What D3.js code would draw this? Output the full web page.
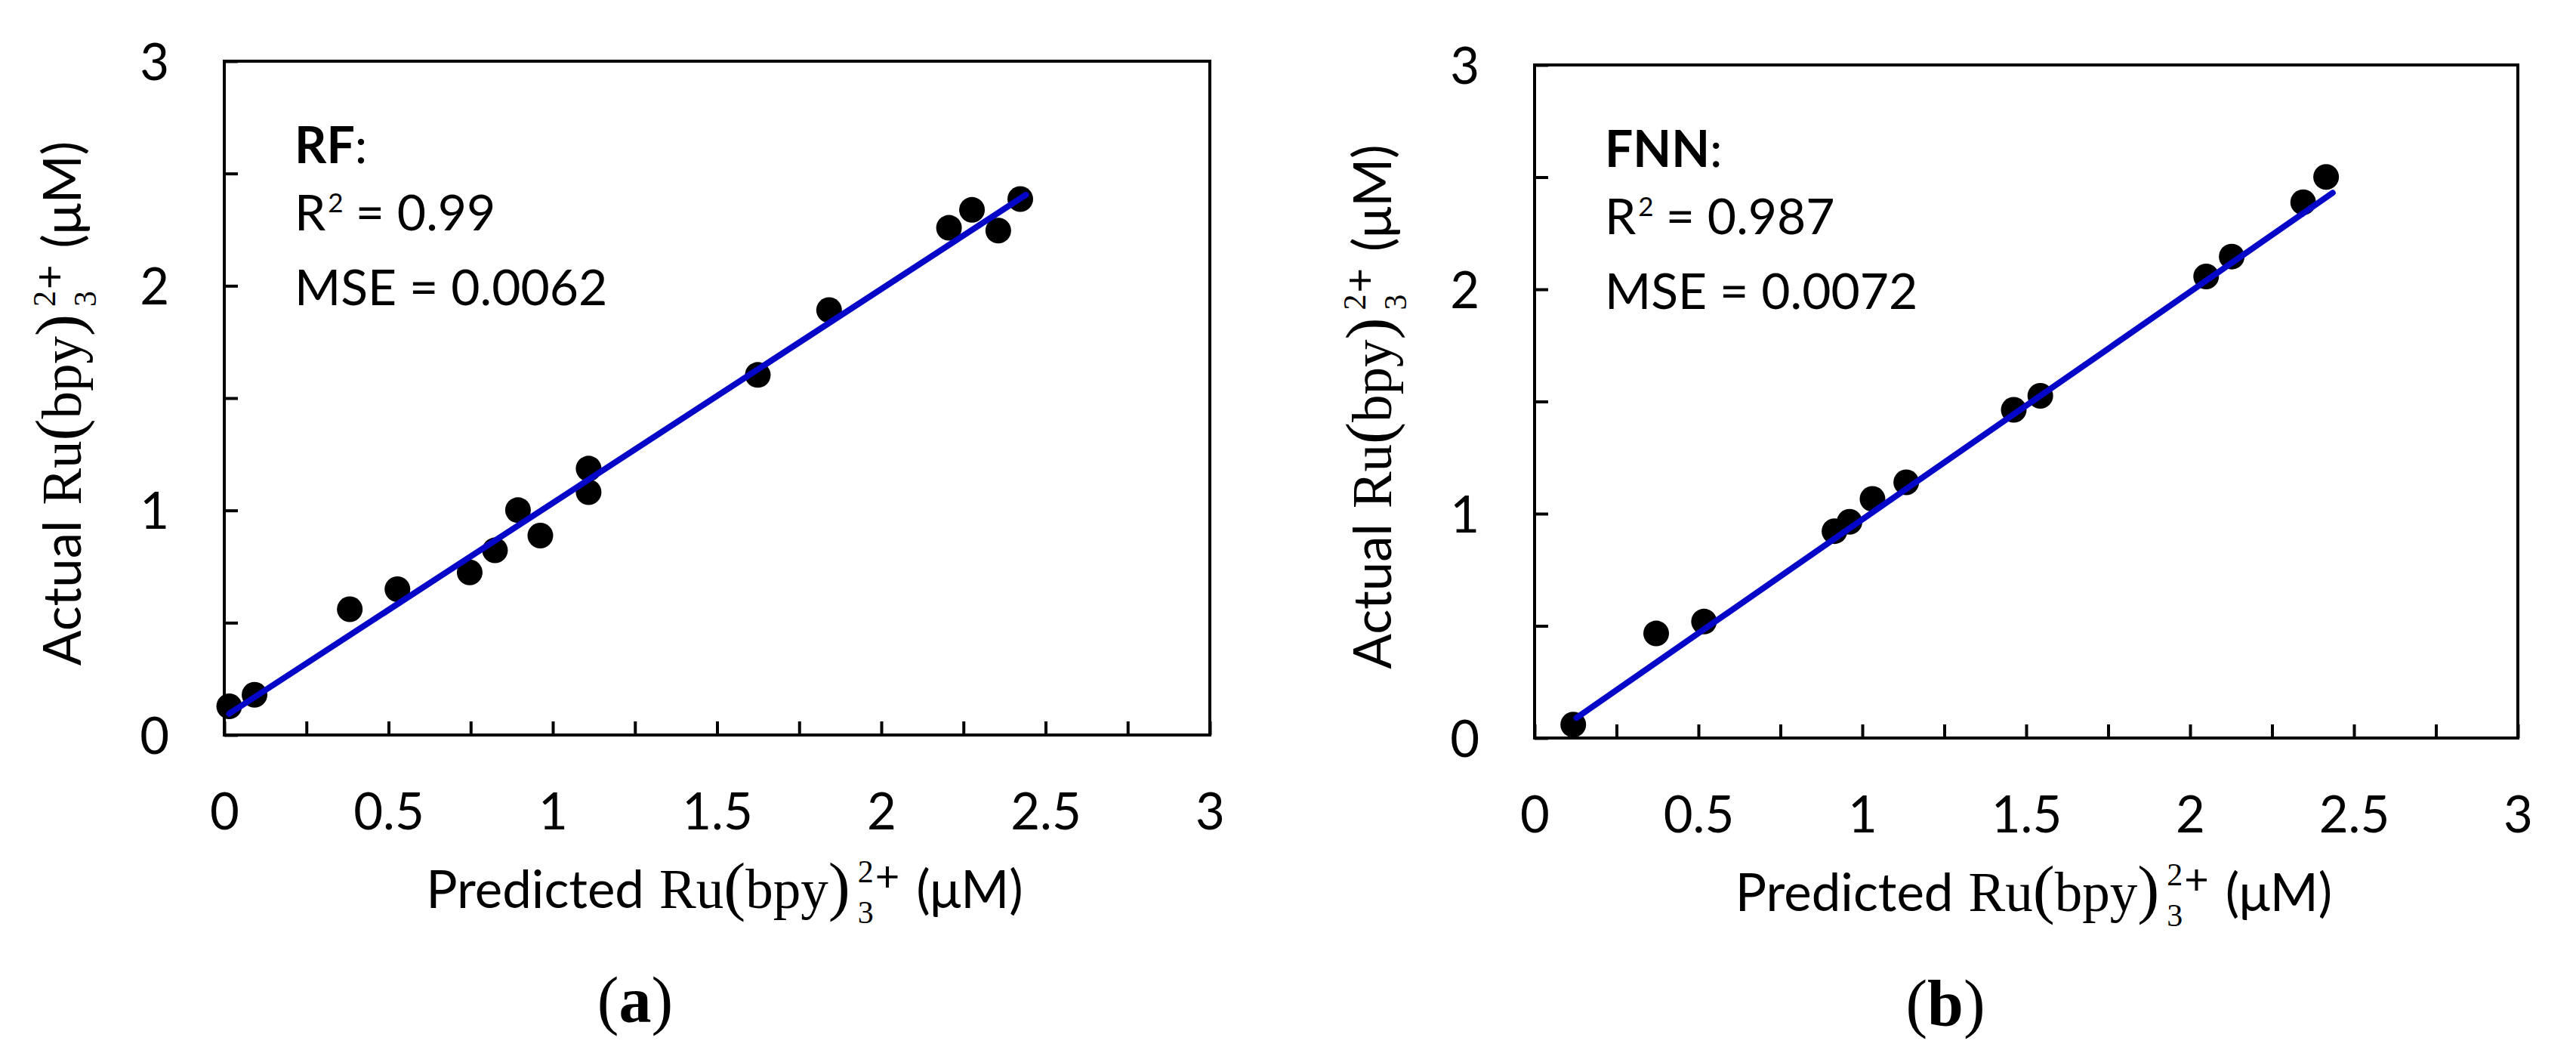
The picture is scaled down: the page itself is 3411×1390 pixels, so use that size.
<!DOCTYPE html>
<html>
<head>
<meta charset="utf-8">
<script src="https://cdn.jsdelivr.net/npm/d3@7"></script>
<style>
  html, body { margin: 0; padding: 0; background: #fff; }
  svg { display: block; }
  text { white-space: pre; }
</style>
</head>
<body>
<svg id="chart" width="3411" height="1390"></svg>
<script>
// ---------------- DATA ----------------
const xTickValues = [0, 0.25, 0.5, 0.75, 1, 1.25, 1.5, 1.75, 2, 2.25, 2.5, 2.75, 3];
const yTickValues = [0, 0.5, 1, 1.5, 2, 2.5, 3];
const xTickLabels = ["0", "0.5", "1", "1.5", "2", "2.5", "3"];
const yTickLabels = ["0", "1", "2", "3"];

// (a) Random forest
const rfPredicted = [0.015, 0.092, 0.382, 0.527, 0.747, 0.824, 0.894, 0.962, 1.109, 1.109, 1.624, 1.841, 2.206, 2.276, 2.356, 2.423];
const rfActual    = [0.128, 0.179, 0.560, 0.649, 0.724, 0.822, 1.001, 0.888, 1.186, 1.081, 1.603, 1.892, 2.258, 2.338, 2.246, 2.386];
const rfFitX = [0.015, 2.44];
const rfFitY = [0.095, 2.405];

// (b) Feed-forward neural network
const fnnPredicted = [0.118, 0.371, 0.517, 0.915, 0.961, 1.031, 1.134, 1.462, 1.543, 2.049, 2.127, 2.345, 2.415];
const fnnActual    = [0.060, 0.466, 0.519, 0.922, 0.964, 1.066, 1.140, 1.463, 1.525, 2.057, 2.146, 2.388, 2.501];
const fnnFitX = [0.128, 2.435];
const fnnFitY = [0.090, 2.430];

const modelNames = ["RF", "FNN"];
const r2Values = ["0.99", "0.987"];
const mseValues = ["0.0062", "0.0072"];
const panelLetters = ["a", "b"];

// ---------------- STYLE ----------------
const SANS = "Lato, 'Open Sans', sans-serif";
const SERIF = "'Liberation Serif', 'DejaVu Serif', serif";
const BLUE = "#0606c8";

const svg = d3.select("#chart");
svg.append("rect").attr("width", 3411).attr("height", 1390).attr("fill", "#fff");

// compose a horizontal run of text pieces; returns end x
function compose(g, pieces, x0) {
  let x = x0 || 0;
  pieces.forEach(p => {
    if (p.stack) {
      let end = x;
      p.stack.forEach(run => { end = Math.max(end, compose(g, run, x)); });
      x = end + (p.gap || 0);
    } else {
      const t = g.append("text")
        .attr("x", x + (p.dx || 0))
        .attr("y", p.dy || 0)
        .attr("font-family", p.font || SANS)
        .attr("font-size", p.size)
        .attr("font-weight", p.weight || "normal")
        .attr("fill", "#000")
        .text(p.text);
      x += (p.dx || 0) + t.node().getComputedTextLength() + (p.gap || 0);
    }
  });
  return x;
}

function chemPieces(prefix) {
  return [
    { text: prefix, size: 69, gap: 20 },
    { text: "Ru", font: SERIF, size: 73 },
    { text: "(", font: SERIF, size: 87 },
    { text: "bpy", font: SERIF, size: 73 },
    { text: ")", font: SERIF, size: 87, gap: 10 },
    { stack: [
        [ { text: "2", font: SERIF, size: 42, dy: -34 }, { text: "+", size: 56, dy: -22, dx: 2 } ],
        [ { text: "3", font: SERIF, size: 42, dy: 20 } ]
      ], gap: 22 },
    { text: "(μM)", size: 69 }
  ];
}

const panels = [
  { x: 297, y: 81, w: 1305, h: 892, px: rfPredicted, py: rfActual, fx: rfFitX, fy: rfFitY },
  { x: 2032, y: 86, w: 1302, h: 891, px: fnnPredicted, py: fnnActual, fx: fnnFitX, fy: fnnFitY }
];

panels.forEach((P, i) => {
  const g = svg.append("g").attr("transform", `translate(${P.x},${P.y})`);
  const x = d3.scaleLinear().domain([0, 3]).range([0, P.w]);
  const y = d3.scaleLinear().domain([0, 3]).range([P.h, 0]);

  // x axis (ticks inward)
  const xAxis = d3.axisBottom(x)
    .tickValues(xTickValues)
    .tickSizeInner(-18).tickSizeOuter(0)
    .tickFormat(d => xTickLabels.includes(String(d)) ? String(d) : "");
  const gx = g.append("g").attr("transform", `translate(0,${P.h})`).call(xAxis);
  gx.select(".domain").remove();
  gx.selectAll(".tick line").attr("stroke", "#000").attr("stroke-width", 4);
  gx.selectAll(".tick text")
    .attr("y", 125).attr("dy", 0)
    .attr("font-family", SANS).attr("font-size", 67).attr("fill", "#000");

  // y axis (ticks inward)
  const yAxis = d3.axisLeft(y)
    .tickValues(yTickValues)
    .tickSizeInner(-18).tickSizeOuter(0)
    .tickPadding(73)
    .tickFormat(d => yTickLabels.includes(String(d)) ? String(d) : "");
  const gy = g.append("g").call(yAxis);
  gy.select(".domain").remove();
  gy.selectAll(".tick line").attr("stroke", "#000").attr("stroke-width", 4);
  gy.selectAll(".tick text")
    .attr("dy", 24)
    .attr("font-family", SANS).attr("font-size", 67).attr("fill", "#000");

  // frame
  g.append("rect").attr("x", 0).attr("y", 0).attr("width", P.w).attr("height", P.h)
    .attr("fill", "none").attr("stroke", "#000").attr("stroke-width", 4);

  // points
  const pts = P.px.map((v, k) => [v, P.py[k]]);
  g.selectAll("circle.pt").data(pts).enter().append("circle")
    .attr("class", "pt")
    .attr("cx", d => x(d[0])).attr("cy", d => y(d[1])).attr("r", 17)
    .attr("fill", "#000");

  // fit line
  const fit = P.fx.map((v, k) => [v, P.fy[k]]);
  g.append("path").datum(fit)
    .attr("d", d3.line().x(d => x(d[0])).y(d => y(d[1])))
    .attr("fill", "none").attr("stroke", BLUE).attr("stroke-width", 8)
    .attr("stroke-linecap", "round");

  // annotation
  const ann = g.append("g").attr("transform", "translate(93,0)");
  const a1 = ann.append("g").attr("transform", "translate(0,135)");
  compose(a1, [
    { text: modelNames[i], size: 66, weight: "bold" },
    { text: ":", size: 66 }
  ]);
  const a2 = ann.append("g").attr("transform", "translate(0,224)");
  compose(a2, [
    { text: "R", size: 66, gap: 3 },
    { text: "2", size: 35, dy: -24, gap: 16 },
    { text: "= " + r2Values[i], size: 66 }
  ]);
  const a3 = ann.append("g").attr("transform", "translate(0,323)");
  compose(a3, [{ text: "MSE = " + mseValues[i], size: 66 }]);

  // x title
  const xt = g.append("g");
  const wx = compose(xt, chemPieces("Predicted"));
  xt.attr("transform", `translate(${P.w / 2 + 10 - wx / 2},${P.h + 229})`);

  // y title (rotated)
  const yt = g.append("g");
  const wy = compose(yt, chemPieces("Actual"));
  yt.attr("transform", `translate(-190,${P.h / 2 + 7}) rotate(-90) translate(${-wy / 2},0)`);

  // panel label
  const pl = g.append("text")
    .attr("x", 544).attr("y", P.h + 380)
    .attr("text-anchor", "middle")
    .attr("font-family", SERIF).attr("font-size", 86).attr("fill", "#000");
  pl.append("tspan").text("(");
  pl.append("tspan").attr("font-weight", "bold").text(panelLetters[i]);
  pl.append("tspan").text(")");
});
</script>
</body>
</html>
